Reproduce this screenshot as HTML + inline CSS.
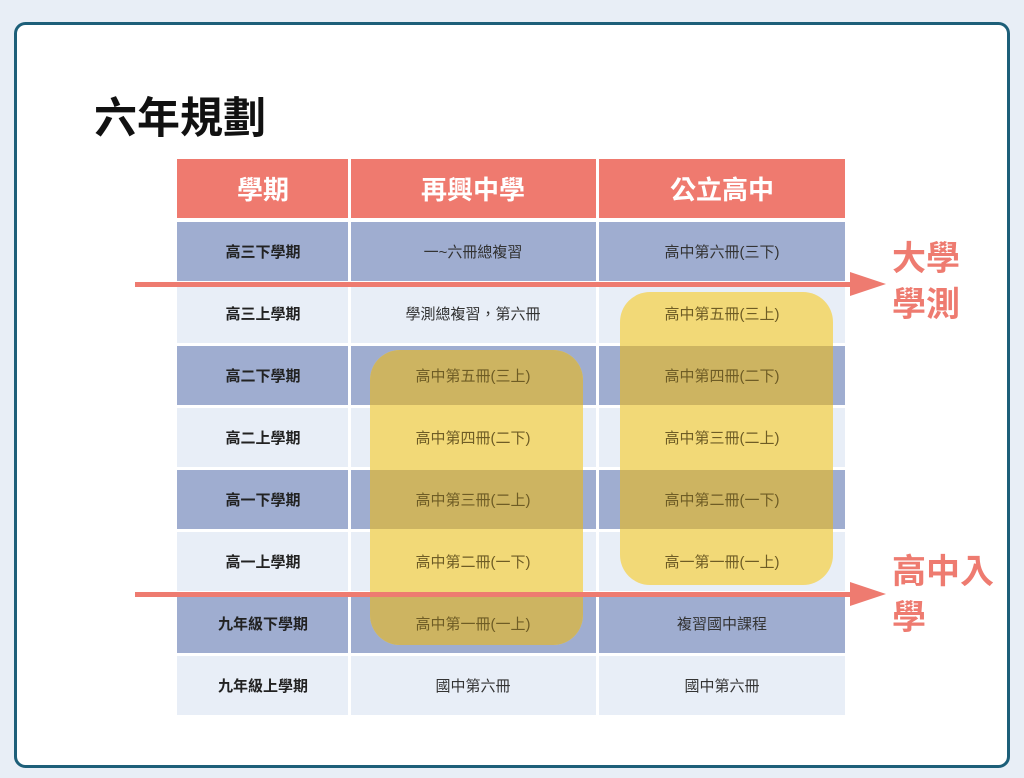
<!DOCTYPE html>
<html><head><meta charset="utf-8"><style>
html,body{margin:0;padding:0;background:#e8eef6;width:1024px;height:778px;overflow:hidden}
svg{display:block}
text{font-family:"Liberation Sans","Noto Sans CJK TC",sans-serif}
</style></head><body>
<svg width="1024" height="778" viewBox="0 0 1024 778">
<defs>
<clipPath id="yl"><rect x="370" y="350" width="213" height="295" rx="30"/></clipPath>
<clipPath id="yr"><rect x="620" y="292" width="213" height="293" rx="30"/></clipPath>
</defs>
<rect x="0" y="0" width="1024" height="778" fill="#e8eef6"/>
<rect x="15.5" y="23.5" width="993" height="743" rx="10" fill="#ffffff" stroke="#1d5f79" stroke-width="3"/>
<text x="94" y="133" font-size="43" font-weight="bold" fill="#111">六年規劃</text>
<g fill="#ef7a6f">
<rect x="177" y="159" width="171" height="59"/>
<rect x="351" y="159" width="245" height="59"/>
<rect x="599" y="159" width="246" height="59"/>
</g>
<g fill="#fff" font-size="26" font-weight="bold" text-anchor="middle">
<text x="263" y="199">學期</text>
<text x="473" y="199">再興中學</text>
<text x="722" y="199">公立高中</text>
</g>
<g>
<rect x="177" y="222" width="171" height="59" fill="#9fadd0"/><rect x="351" y="222" width="245" height="59" fill="#9fadd0"/><rect x="599" y="222" width="246" height="59" fill="#9fadd0"/>
<rect x="177" y="284" width="171" height="59" fill="#e8eef7"/><rect x="351" y="284" width="245" height="59" fill="#e8eef7"/><rect x="599" y="284" width="246" height="59" fill="#e8eef7"/>
<rect x="177" y="346" width="171" height="59" fill="#9fadd0"/><rect x="351" y="346" width="245" height="59" fill="#9fadd0"/><rect x="599" y="346" width="246" height="59" fill="#9fadd0"/>
<rect x="177" y="408" width="171" height="59" fill="#e8eef7"/><rect x="351" y="408" width="245" height="59" fill="#e8eef7"/><rect x="599" y="408" width="246" height="59" fill="#e8eef7"/>
<rect x="177" y="470" width="171" height="59" fill="#9fadd0"/><rect x="351" y="470" width="245" height="59" fill="#9fadd0"/><rect x="599" y="470" width="246" height="59" fill="#9fadd0"/>
<rect x="177" y="532" width="171" height="59" fill="#e8eef7"/><rect x="351" y="532" width="245" height="59" fill="#e8eef7"/><rect x="599" y="532" width="246" height="59" fill="#e8eef7"/>
<rect x="177" y="594" width="171" height="59" fill="#9fadd0"/><rect x="351" y="594" width="245" height="59" fill="#9fadd0"/><rect x="599" y="594" width="246" height="59" fill="#9fadd0"/>
<rect x="177" y="656" width="171" height="59" fill="#e8eef7"/><rect x="351" y="656" width="245" height="59" fill="#e8eef7"/><rect x="599" y="656" width="246" height="59" fill="#e8eef7"/>
</g>
<g font-size="15" font-weight="bold" fill="#222" text-anchor="middle">
<text x="263" y="257">高三下學期</text>
<text x="263" y="319">高三上學期</text>
<text x="263" y="381">高二下學期</text>
<text x="263" y="443">高二上學期</text>
<text x="263" y="505">高一下學期</text>
<text x="263" y="567">高一上學期</text>
<text x="263" y="629">九年級下學期</text>
<text x="263" y="691">九年級上學期</text>
</g>
<g font-size="15" fill="#333" text-anchor="middle">
<text x="473" y="257">一~六冊總複習</text>
<text x="722" y="257">高中第六冊(三下)</text>
<text x="473" y="319">學測總複習，第六冊</text>
<text x="722" y="629">複習國中課程</text>
<text x="473" y="691">國中第六冊</text>
<text x="722" y="691">國中第六冊</text>
</g>
<g fill="#ee7b70">
<rect x="135" y="282" width="725" height="5"/>
<polygon points="850,272 886,284 850,296"/>
</g>
<g clip-path="url(#yl)">
<rect x="360" y="340" width="240" height="320" fill="#f2d977"/>
<g fill="#cdb461"><rect x="351" y="346" width="245" height="59"/><rect x="351" y="470" width="245" height="59"/><rect x="351" y="594" width="245" height="59"/></g>
</g>
<g clip-path="url(#yr)">
<rect x="610" y="280" width="240" height="320" fill="#f2d977"/>
<g fill="#cdb461"><rect x="599" y="346" width="246" height="59"/><rect x="599" y="470" width="246" height="59"/></g>
</g>
<g fill="#ee7b70">
<rect x="135" y="592" width="725" height="5"/>
<polygon points="850,582 886,594 850,606"/>
</g>
<g fill="#ee7b70" font-size="34" font-weight="bold">
<text x="892" y="270">大學</text>
<text x="892" y="316">學測</text>
<text x="892" y="583">高中入</text>
<text x="892" y="629">學</text>
</g>
<g font-size="15" fill="#6e5c25" text-anchor="middle">
<text x="473" y="381">高中第五冊(三上)</text>
<text x="473" y="443">高中第四冊(二下)</text>
<text x="473" y="505">高中第三冊(二上)</text>
<text x="473" y="567">高中第二冊(一下)</text>
<text x="473" y="629">高中第一冊(一上)</text>
<text x="722" y="319">高中第五冊(三上)</text>
<text x="722" y="381">高中第四冊(二下)</text>
<text x="722" y="443">高中第三冊(二上)</text>
<text x="722" y="505">高中第二冊(一下)</text>
<text x="722" y="567">高一第一冊(一上)</text>
</g>
</svg>
</body></html>
